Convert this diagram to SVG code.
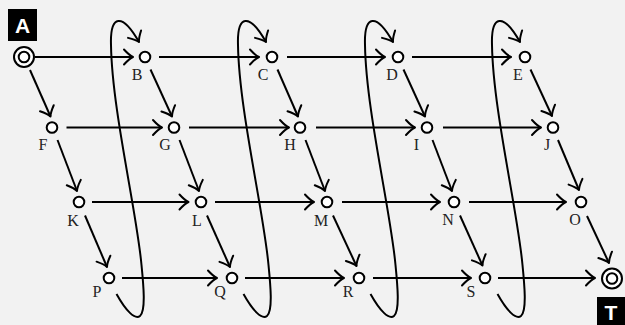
<svg xmlns="http://www.w3.org/2000/svg" width="625" height="325" viewBox="0 0 625 325">
<style>
.bg{fill:#f2f2f2}
.e{fill:none;stroke:#000;stroke-width:2;marker-end:url(#ah)}
.n{fill:#fff;stroke:#000;stroke-width:2}
.lb{font-family:"Liberation Serif","Times New Roman",serif;font-size:16px;fill:#222;text-anchor:middle}
.tag{fill:#000}
.tagt{font-family:"Liberation Sans",Arial,sans-serif;font-weight:bold;font-size:21px;fill:#fff;text-anchor:middle}
</style>
<defs>
<marker id="ah" markerUnits="userSpaceOnUse" orient="auto" refX="0" refY="0" markerWidth="20" markerHeight="20" overflow="visible">
<path d="M-9,-7.5 Q-3.5,-1.5 0,0 Q-3.5,1.5 -9,7.5" fill="none" stroke="#000" stroke-width="2" stroke-linecap="round" stroke-linejoin="round"/>
</marker>
</defs>
<rect class="bg" x="0" y="0" width="625" height="325"/>
<g id="connectors">
<path class="e" d="M35,57 H133"/>
<path class="e" d="M159,57 H259"/>
<path class="e" d="M287,57 H385"/>
<path class="e" d="M412,57 H511"/>
<path class="e" d="M66.5,127.5 H162"/>
<path class="e" d="M189,127.5 H289"/>
<path class="e" d="M316,127.5 H415"/>
<path class="e" d="M443,127.5 H541"/>
<path class="e" d="M92,202 H188.5"/>
<path class="e" d="M215,202 H314"/>
<path class="e" d="M342,202 H440"/>
<path class="e" d="M469,202 H566"/>
<path class="e" d="M122,278 H217"/>
<path class="e" d="M245,278 H344"/>
<path class="e" d="M373,278 H471"/>
<path class="e" d="M498,278 H595"/>
<path class="e" d="M30,70 L50.5,116.5"/>
<path class="e" d="M57.5,140 L77,191"/>
<path class="e" d="M85,215.5 L107,267"/>
<path class="e" d="M150.5,69.5 L172,116.5"/>
<path class="e" d="M179.5,140 L199,191"/>
<path class="e" d="M207,215.5 L230,267"/>
<path class="e" d="M277.5,69.5 L298,116.5"/>
<path class="e" d="M305.5,140 L325,191"/>
<path class="e" d="M333,215.5 L356.5,266"/>
<path class="e" d="M403.5,69.5 L425,116.5"/>
<path class="e" d="M432.5,140 L452,191"/>
<path class="e" d="M460,215.5 L482.5,265.5"/>
<path class="e" d="M530.5,69.5 L552,116"/>
<path class="e" d="M558,140 L579,190"/>
<path class="e" d="M587,216 L609,263"/>
<path class="e" d="M116.5,294 C126,311 135,320 140,316 C146,311 143.5,285 141.5,265 C136.5,210 112,110 111,45 C110,15 122,12 139,42"/>
<path class="e" d="M243.5,294 C253,311 262,320 267,316 C273,311 270.5,285 268.5,265 C263.5,210 239,110 238,45 C237,15 249,12 266,42"/>
<path class="e" d="M370.5,294 C380,311 389,320 394,316 C400,311 397.5,285 395.5,265 C390.5,210 366,110 365,45 C364,15 376,12 393,42"/>
<path class="e" d="M497.5,294 C507,311 516,320 521,316 C527,311 524.5,285 522.5,265 C517.5,210 493,110 492,45 C491,15 503,12 520,42"/>
</g>
<g id="node-A"><rect class="tag" x="8" y="9" width="29" height="32"/><text class="tagt" x="22.5" y="33">A</text><circle class="n" cx="24" cy="57" r="10"/><circle class="n" cx="24" cy="57" r="5.3"/></g>
<g id="node-B"><circle class="n" cx="145" cy="57" r="5.3"/><text class="lb" x="137" y="80">B</text></g>
<g id="node-C"><circle class="n" cx="272" cy="57" r="5.3"/><text class="lb" x="263" y="80">C</text></g>
<g id="node-D"><circle class="n" cx="398" cy="57" r="5.3"/><text class="lb" x="392" y="80">D</text></g>
<g id="node-E"><circle class="n" cx="525" cy="57" r="5.3"/><text class="lb" x="518" y="80">E</text></g>
<g id="node-F"><circle class="n" cx="52" cy="127.5" r="5.3"/><text class="lb" x="43" y="150">F</text></g>
<g id="node-G"><circle class="n" cx="174" cy="127.5" r="5.3"/><text class="lb" x="165" y="150">G</text></g>
<g id="node-H"><circle class="n" cx="300" cy="127.5" r="5.3"/><text class="lb" x="290" y="150">H</text></g>
<g id="node-I"><circle class="n" cx="427" cy="127.5" r="5.3"/><text class="lb" x="416.5" y="150">I</text></g>
<g id="node-J"><circle class="n" cx="553" cy="127.5" r="5.3"/><text class="lb" x="547" y="150">J</text></g>
<g id="node-K"><circle class="n" cx="79" cy="202" r="5.3"/><text class="lb" x="73" y="226">K</text></g>
<g id="node-L"><circle class="n" cx="201" cy="202" r="5.3"/><text class="lb" x="197" y="226">L</text></g>
<g id="node-M"><circle class="n" cx="327" cy="202" r="5.3"/><text class="lb" x="321" y="226">M</text></g>
<g id="node-N"><circle class="n" cx="454" cy="202" r="5.3"/><text class="lb" x="448" y="225">N</text></g>
<g id="node-O"><circle class="n" cx="581" cy="202" r="5.3"/><text class="lb" x="575" y="225">O</text></g>
<g id="node-P"><circle class="n" cx="109" cy="278" r="5.3"/><text class="lb" x="97" y="297">P</text></g>
<g id="node-Q"><circle class="n" cx="232" cy="278" r="5.3"/><text class="lb" x="220" y="297">Q</text></g>
<g id="node-R"><circle class="n" cx="359" cy="278" r="5.3"/><text class="lb" x="348" y="297">R</text></g>
<g id="node-S"><circle class="n" cx="485" cy="278" r="5.3"/><text class="lb" x="471" y="297">S</text></g>
<g id="node-T"><circle class="n" cx="612" cy="278.5" r="10"/><circle class="n" cx="612" cy="278.5" r="5.3"/><rect class="tag" x="597" y="297" width="28" height="28"/><text class="tagt" x="611" y="320">T</text></g>
</svg>
